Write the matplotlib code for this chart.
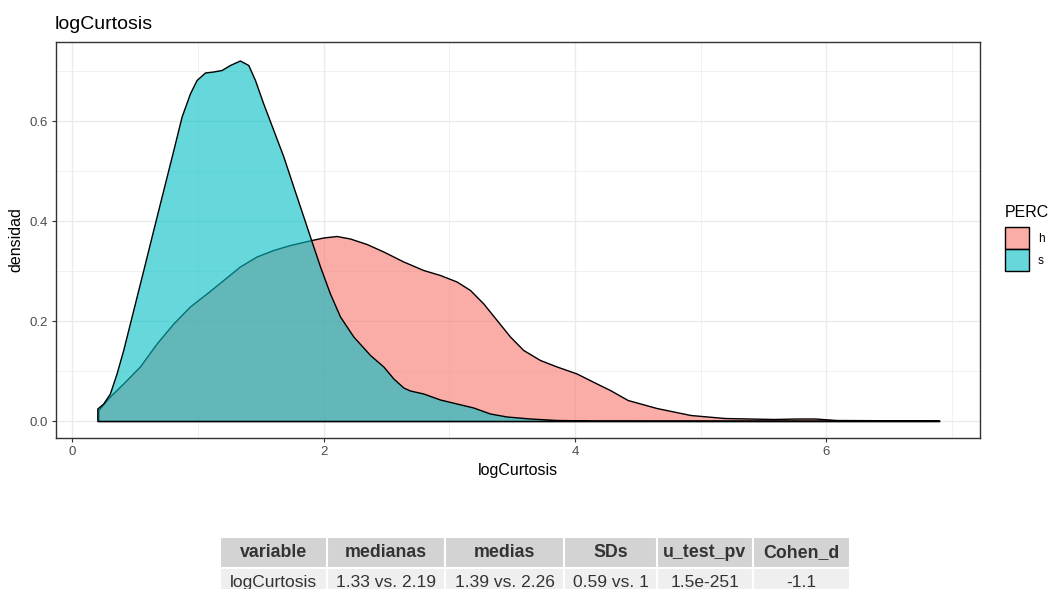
import matplotlib
matplotlib.use("Agg")
import matplotlib.pyplot as plt
from matplotlib.patches import Patch
from matplotlib.colors import to_rgba

plt.rcParams['font.family'] = ['Liberation Sans', 'DejaVu Sans']

# density estimates of logCurtosis per PERC group
x_h = [0.206, 0.298, 0.404, 0.537, 0.670, 0.803, 0.935, 1.068, 1.201, 1.333,
       1.466, 1.599, 1.732, 1.904, 1.997, 2.103, 2.209, 2.342, 2.475, 2.634,
       2.793, 2.926, 3.058, 3.165, 3.271, 3.377, 3.483, 3.589, 3.722, 3.855,
       4.014, 4.173, 4.279, 4.42, 4.65, 4.92, 5.19, 5.58, 5.78, 5.91, 6.08, 6.90]
y_h = [0.022, 0.049, 0.075, 0.109, 0.155, 0.195, 0.229, 0.255, 0.282, 0.309,
       0.329, 0.342, 0.352, 0.362, 0.367, 0.370, 0.365, 0.354, 0.339, 0.319,
       0.302, 0.292, 0.279, 0.262, 0.235, 0.202, 0.169, 0.142, 0.122, 0.109,
       0.095, 0.075, 0.062, 0.042, 0.026, 0.012, 0.006, 0.004, 0.005, 0.005,
       0.002, 0.001]

x_s = [0.198, 0.245, 0.298, 0.351, 0.404, 0.484, 0.564, 0.643, 0.723, 0.803,
       0.869, 0.935, 0.988, 1.055, 1.121, 1.187, 1.254, 1.333, 1.400, 1.453,
       1.519, 1.599, 1.679, 1.758, 1.838, 1.904, 1.971, 2.050, 2.130, 2.236,
       2.369, 2.475, 2.555, 2.634, 2.687, 2.793, 2.926, 3.058, 3.191, 3.324,
       3.457, 3.642, 3.855, 4.12, 6.90]
y_s = [0.025, 0.035, 0.055, 0.095, 0.142, 0.222, 0.302, 0.382, 0.462, 0.542,
       0.609, 0.655, 0.682, 0.697, 0.699, 0.702, 0.712, 0.721, 0.712, 0.682,
       0.635, 0.582, 0.529, 0.469, 0.409, 0.359, 0.309, 0.255, 0.209, 0.169,
       0.132, 0.109, 0.085, 0.067, 0.061, 0.055, 0.043, 0.035, 0.027, 0.015,
       0.009, 0.005, 0.002, 0.001, 0.0005]

groups = ['h', 's']
colors = ['#F8766D', '#00BFC4']

# summary table below the plot
table_cols = ['variable', 'medianas', 'medias', 'SDs', 'u_test_pv', 'Cohen_d']
table_row = ['logCurtosis', '1.33 vs. 2.19', '1.39 vs. 2.26', '0.59 vs. 1',
             '1.5e-251', '-1.1']
col_widths = [107, 118, 119, 93, 96, 97]

W, H = 1051, 589
fig = plt.figure(figsize=(W / 100, H / 100), dpi=100)
ax = fig.add_axes([56 / W, 1 - 438 / H, 924 / W, 396 / H])

for xs, ys, c in zip([x_h, x_s], [y_h, y_s], colors):
    ax.fill_between(xs, ys, 0, facecolor=to_rgba(c, 0.6),
                    edgecolor='black', linewidth=1.0, zorder=2)

ax.set_xlim(-0.131, 7.225)
ax.set_ylim(-0.034, 0.758)
ax.set_xticks([0, 2, 4, 6])
ax.set_xticks([1, 3, 5, 7], minor=True)
ax.set_yticks([0.0, 0.2, 0.4, 0.6])
ax.set_yticklabels(['0.0', '0.2', '0.4', '0.6'])
ax.set_yticks([0.1, 0.3, 0.5, 0.7], minor=True)
ax.grid(which='major', color='#ebebeb', linewidth=1.0)
ax.grid(which='minor', color='#ebebeb', linewidth=0.5)
ax.set_axisbelow(True)
for sp in ax.spines.values():
    sp.set_color('#333333')
    sp.set_linewidth(1.0)
ax.tick_params(which='major', length=3, width=0.8, color='#333333',
               labelcolor='#4d4d4d', labelsize=9.5, pad=3)
ax.tick_params(which='minor', length=0)

ax.set_xlabel('logCurtosis', fontsize=11.5, labelpad=3)
ax.set_ylabel('densidad', fontsize=11.5, labelpad=4)
fig.text(55 / W, 1 - 29 / H, 'logCurtosis', fontsize=14, va='baseline', ha='left')

# legend: title as separate text so the gap above the keys can be set
fig.text(1005 / W, 1 - 217 / H, 'PERC', fontsize=11.5, va='baseline', ha='left')
handles = [Patch(facecolor=to_rgba(c, 0.6), edgecolor='black', linewidth=1.0)
           for c in colors]
ax.legend(handles, groups, loc='upper left',
          bbox_to_anchor=(1005 / W, 1 - 227 / H), bbox_transform=fig.transFigure,
          frameon=False, fontsize=8.5, handlelength=2.0,
          handleheight=2.5, labelspacing=0, handletextpad=0.8, borderpad=0,
          borderaxespad=0)

tax = fig.add_axes([220 / W, (H - 598) / H, sum(col_widths) / W, 61 / H])
tax.axis('off')
tbl = tax.table(cellText=[table_row], colLabels=table_cols,
                colWidths=[w / sum(col_widths) for w in col_widths],
                cellLoc='center', bbox=[0, 0, 1, 1])
tbl.auto_set_font_size(False)
for (r, c), cell in tbl.get_celld().items():
    cell.set_edgecolor('white')
    cell.set_linewidth(1.5)
    if r == 0:
        cell.set_facecolor('#d3d3d3')
        cell.get_text().set_fontweight('bold')
        cell.get_text().set_fontsize(12.8)
    else:
        cell.set_facecolor('#efefef')
        cell.get_text().set_fontsize(12.5)
    cell.get_text().set_color('#333333')

fig.savefig('out.png', dpi=100)
